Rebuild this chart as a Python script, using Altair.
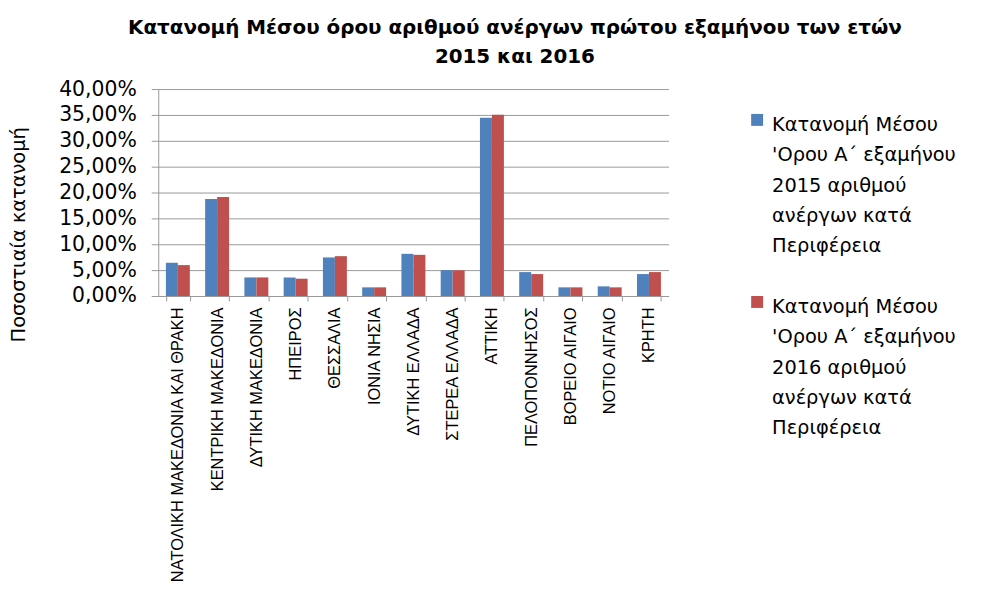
import altair as alt
import pandas as pd

regions = [
    "ΑΝΑΤΟΛΙΚΗ ΜΑΚΕΔΟΝΙΑ ΚΑΙ ΘΡΑΚΗ", "ΚΕΝΤΡΙΚΗ ΜΑΚΕΔΟΝΙΑ", "ΔΥΤΙΚΗ ΜΑΚΕΔΟΝΙΑ",
    "ΗΠΕΙΡΟΣ", "ΘΕΣΣΑΛΙΑ", "ΙΟΝΙΑ ΝΗΣΙΑ", "ΔΥΤΙΚΗ ΕΛΛΑΔΑ", "ΣΤΕΡΕΑ ΕΛΛΑΔΑ",
    "ΑΤΤΙΚΗ", "ΠΕΛΟΠΟΝΝΗΣΟΣ", "ΒΟΡΕΙΟ ΑΙΓΑΙΟ", "ΝΟΤΙΟ ΑΙΓΑΙΟ", "ΚΡΗΤΗ",
]
values_2015 = [6.42, 18.74, 3.59, 3.59, 7.45, 1.67, 8.15, 5.00, 34.47, 4.62, 1.67, 1.86, 4.24]
values_2016 = [5.97, 19.13, 3.59, 3.34, 7.70, 1.67, 7.96, 4.97, 35.04, 4.24, 1.67, 1.67, 4.62]

series_2015 = "Κατανομή Μέσου|'Ορου Α΄ εξαμήνου|2015 αριθμού|ανέργων κατά|Περιφέρεια"
series_2016 = "Κατανομή Μέσου|'Ορου Α΄ εξαμήνου|2016 αριθμού|ανέργων κατά|Περιφέρεια"
series_names = [series_2015, series_2016]
series_colors = ["#4F81BD", "#C0504D"]

title_lines = ["Κατανομή Μέσου όρου αριθμού ανέργων πρώτου  εξαμήνου των ετών", "2015 και 2016"]
y_title = "Ποσοστιαία κατανομή"
y_ticks = [0, 5, 10, 15, 20, 25, 30, 35, 40]

rows = []
for r, a, b in zip(regions, values_2015, values_2016):
    rows.append({"region": r, "series": series_2015, "value": a})
    rows.append({"region": r, "series": series_2016, "value": b})
df = pd.DataFrame(rows)
legend_df = pd.DataFrame({"series": series_names})

color_scale = alt.Scale(domain=series_names, range=series_colors)

bars = alt.Chart(df).mark_bar().encode(
    x=alt.X("region:N", sort=regions,
            scale=alt.Scale(paddingInner=0.39, paddingOuter=0.195),
            axis=alt.Axis(title=None, labelAngle=270, labelAlign="right", labelBaseline="middle",
                          labelFont="Liberation Sans", labelFontSize=16.5, labelColor="#000000",
                          labelPadding=6, tickSize=5, tickBand="extent", tickColor="#999999",
                          domainColor="#999999", labelLimit=0, labelOverlap=False)),
    xOffset=alt.XOffset("series:N", sort=series_names),
    y=alt.Y("value:Q", scale=alt.Scale(domain=[0, 40], nice=False),
            axis=alt.Axis(values=y_ticks, title=y_title,
                          labelExpr="replace(format(datum.value, '.2f'), '.', ',') + '%'",
                          labelFont="DejaVu Sans", labelFontSize=20.5, labelColor="#000000",
                          labelPadding=15, tickSize=7, tickColor="#999999", domainColor="#999999",
                          gridColor="#999999", grid=True,
                          titleFont="DejaVu Sans", titleFontSize=19.5, titleFontWeight="normal",
                          titleColor="#000000", titleAngle=270, titleX=-140, titleY=146,
                          titleAlign="center", titleBaseline="middle")),
    color=alt.Color("series:N", scale=color_scale, legend=None),
)

layers = [bars]
sym_y = [31, 214]
txt_y = [42, 225]
for name, sy, ty in zip(series_names, sym_y, txt_y):
    sub = legend_df[legend_df["series"] == name]
    sq = alt.Chart(sub).mark_square(size=144, opacity=1).encode(
        x=alt.value(602), y=alt.value(sy),
        color=alt.Color("series:N", scale=color_scale, legend=None),
    )
    tx = alt.Chart(sub).mark_text(align="left", baseline="alphabetic", lineBreak="|",
                                  lineHeight=30.5, font="DejaVu Sans", fontSize=19.5,
                                  color="#000000").encode(
        x=alt.value(617), y=alt.value(ty), text="series:N",
    )
    layers += [sq, tx]

chart = alt.layer(*layers).properties(
    width=513, height=208,
    title=alt.Title(text=title_lines, anchor="middle", dx=102, fontSize=20, font="DejaVu Sans",
                    fontWeight="bold", color="#000000", lineHeight=29, offset=12),
    autosize=alt.AutoSizeParams(type="none"),
    padding={"left": 151, "top": 80, "right": 310, "bottom": 285},
).configure_view(stroke=None).configure_axis(gridWidth=1)

chart.save("out.html", embed_options={"renderer": "svg", "actions": False})
